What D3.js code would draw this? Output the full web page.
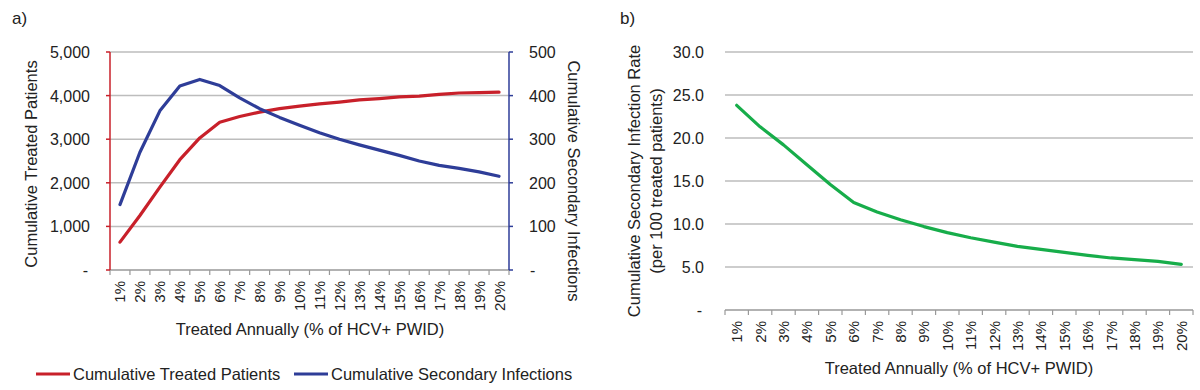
<!DOCTYPE html>
<html><head><meta charset="utf-8">
<script src="https://cdn.jsdelivr.net/npm/d3@7/dist/d3.min.js"></script>
<style>body{margin:0;background:#fff}svg{display:block;font-family:"Liberation Sans",Arial,sans-serif}</style>
</head><body><svg id="c" width="1200" height="390"></svg>
<script>
const categories = ["1%","2%","3%","4%","5%","6%","7%","8%","9%","10%","11%","12%","13%","14%","15%","16%","17%","18%","19%","20%"];
const treatedPatients = [640,1250,1900,2530,3030,3390,3520,3620,3700,3760,3810,3850,3900,3930,3970,3990,4030,4060,4070,4080];
const secondaryInfections = [150,270,365,422,437,423,395,370,350,332,315,300,287,275,263,250,240,233,225,215];
const infectionRate = [23.8,21.3,19.2,16.9,14.6,12.5,11.4,10.5,9.7,9.0,8.4,7.9,7.4,7.05,6.7,6.35,6.05,5.85,5.65,5.3];
const leftTicks = [0,1000,2000,3000,4000,5000];
const rightTicks = [0,100,200,300,400,500];
const rateTicks = [0,5,10,15,20,25,30];

const svg = d3.select("#c");
const RED="#c8202a", BLUE="#2e3d98", GREEN="#17ad4a", GRID="#bdbdbd", FS=15, YFS=16, TFS=16.5;
const fmtL = v => v===0 ? "-" : d3.format(",")(v);

// Panel a
const xa = d3.scaleBand().domain(categories).range([110,509]);
const ya = d3.scaleLinear().domain([0,5000]).range([270,52]);
const ya2 = d3.scaleLinear().domain([0,500]).range([270,52]);
const ga = svg.append("g");
ga.selectAll("line.g").data(leftTicks.slice(1)).join("line")
  .attr("x1",110).attr("x2",509).attr("y1",d=>ya(d)).attr("y2",d=>ya(d))
  .attr("stroke",GRID).attr("stroke-width",1.5);
ga.append("line").attr("x1",110).attr("x2",509).attr("y1",270).attr("y2",270).attr("stroke","#999").attr("stroke-width",1.5);
const bounds = categories.map(c=>xa(c)).concat([509]);
ga.selectAll("line.bt").data(bounds).join("line").attr("x1",d=>d).attr("x2",d=>d).attr("y1",270).attr("y2",275).attr("stroke","#999").attr("stroke-width",1.2);
ga.selectAll("text.xl").data(categories).join("text")
  .attr("transform",d=>`translate(${xa(d)+xa.bandwidth()/2+5.5},281) rotate(-90)`)
  .attr("text-anchor","end").attr("font-size",FS).attr("fill","#222").text(d=>d);
ga.append("line").attr("x1",110).attr("x2",110).attr("y1",52).attr("y2",270).attr("stroke",RED).attr("stroke-width",1.5);
ga.selectAll("line.lt").data(leftTicks).join("line").attr("x1",106).attr("x2",110).attr("y1",d=>ya(d)).attr("y2",d=>ya(d)).attr("stroke",RED).attr("stroke-width",1.5);
ga.selectAll("text.lt").data(leftTicks).join("text").attr("x",d=>d===0?88:90).attr("y",d=>ya(d)+6)
  .attr("text-anchor","end").attr("font-size",YFS).attr("fill","#222").text(fmtL);
ga.append("line").attr("x1",509).attr("x2",509).attr("y1",52).attr("y2",270).attr("stroke",BLUE).attr("stroke-width",1.5);
ga.selectAll("line.rt").data(rightTicks).join("line").attr("x1",509).attr("x2",513).attr("y1",d=>ya2(d)).attr("y2",d=>ya2(d)).attr("stroke",BLUE).attr("stroke-width",1.5);
ga.selectAll("text.rt").data(rightTicks).join("text").attr("x",d=>d===0?530:529).attr("y",d=>ya2(d)+6)
  .attr("text-anchor","start").attr("font-size",YFS).attr("fill","#222").text(d=>d===0?"-":d);
const cx = c => xa(c)+xa.bandwidth()/2;
ga.append("path").datum(treatedPatients).attr("fill","none").attr("stroke",RED).attr("stroke-width",3.2).attr("stroke-linejoin","round").attr("stroke-linecap","round")
  .attr("d",d3.line().x((d,i)=>cx(categories[i])).y(d=>ya(d)));
ga.append("path").datum(secondaryInfections).attr("fill","none").attr("stroke",BLUE).attr("stroke-width",3.2).attr("stroke-linejoin","round").attr("stroke-linecap","round")
  .attr("d",d3.line().x((d,i)=>cx(categories[i])).y(d=>ya2(d)));
ga.append("text").attr("x",12).attr("y",24).attr("font-size",17).attr("fill","#222").text("a)");
ga.append("text").attr("transform","translate(37,164) rotate(-90)").attr("text-anchor","middle").attr("font-size",TFS).attr("fill","#222").text("Cumulative Treated Patients");
ga.append("text").attr("transform","translate(568,181) rotate(90)").attr("text-anchor","middle").attr("font-size",TFS).attr("fill","#222").text("Cumulative Secondary Infections");
ga.append("text").attr("x",310).attr("y",335).attr("text-anchor","middle").attr("font-size",TFS).attr("fill","#222").text("Treated Annually (% of HCV+ PWID)");
const leg = [{t:"Cumulative Treated Patients",c:RED,x:36},{t:"Cumulative Secondary Infections",c:BLUE,x:294}];
leg.forEach(l=>{
  ga.append("line").attr("x1",l.x).attr("x2",l.x+34).attr("y1",374).attr("y2",374).attr("stroke",l.c).attr("stroke-width",3.2);
  ga.append("text").attr("x",l.x+37).attr("y",379.5).attr("font-size",TFS).attr("fill","#222").text(l.t);
});

// Panel b
const xb = d3.scaleBand().domain(categories).range([725,1193]);
const yb = d3.scaleLinear().domain([0,30]).range([310,52]);
const gb = svg.append("g");
gb.selectAll("line.g").data(rateTicks.slice(1)).join("line")
  .attr("x1",725).attr("x2",1193).attr("y1",d=>yb(d)).attr("y2",d=>yb(d)).attr("stroke",GRID).attr("stroke-width",1.5);
gb.append("line").attr("x1",725).attr("x2",1193).attr("y1",310).attr("y2",310).attr("stroke","#999").attr("stroke-width",1.5);
const bb = categories.map(c=>xb(c)).concat([1193]);
gb.selectAll("line.bt").data(bb).join("line").attr("x1",d=>d).attr("x2",d=>d).attr("y1",310).attr("y2",315).attr("stroke","#999").attr("stroke-width",1.2);
gb.selectAll("text.xl").data(categories).join("text")
  .attr("transform",d=>`translate(${xb(d)+xb.bandwidth()/2+5.5},321) rotate(-90)`)
  .attr("text-anchor","end").attr("font-size",FS).attr("fill","#222").text(d=>d);
gb.selectAll("text.yl").data(rateTicks).join("text").attr("x",d=>d===0?702:704).attr("y",d=>yb(d)+6)
  .attr("text-anchor","end").attr("font-size",YFS).attr("fill","#222").text(d=>d===0?"-":d3.format(".1f")(d));
gb.append("path").datum(infectionRate).attr("fill","none").attr("stroke",GREEN).attr("stroke-width",3.2).attr("stroke-linejoin","round").attr("stroke-linecap","round")
  .attr("d",d3.line().x((d,i)=>xb(categories[i])+xb.bandwidth()/2).y(d=>yb(d)));
gb.append("text").attr("x",620).attr("y",24).attr("font-size",17).attr("fill","#222").text("b)");
gb.append("text").attr("transform","translate(640,181) rotate(-90)").attr("text-anchor","middle").attr("font-size",TFS).attr("fill","#222").text("Cumulative Secondary Infection Rate");
gb.append("text").attr("transform","translate(662,181) rotate(-90)").attr("text-anchor","middle").attr("font-size",TFS).attr("fill","#222").text("(per 100 treated patients)");
gb.append("text").attr("x",959).attr("y",374).attr("text-anchor","middle").attr("font-size",TFS).attr("fill","#222").text("Treated Annually (% of HCV+ PWID)");
</script></body></html>
